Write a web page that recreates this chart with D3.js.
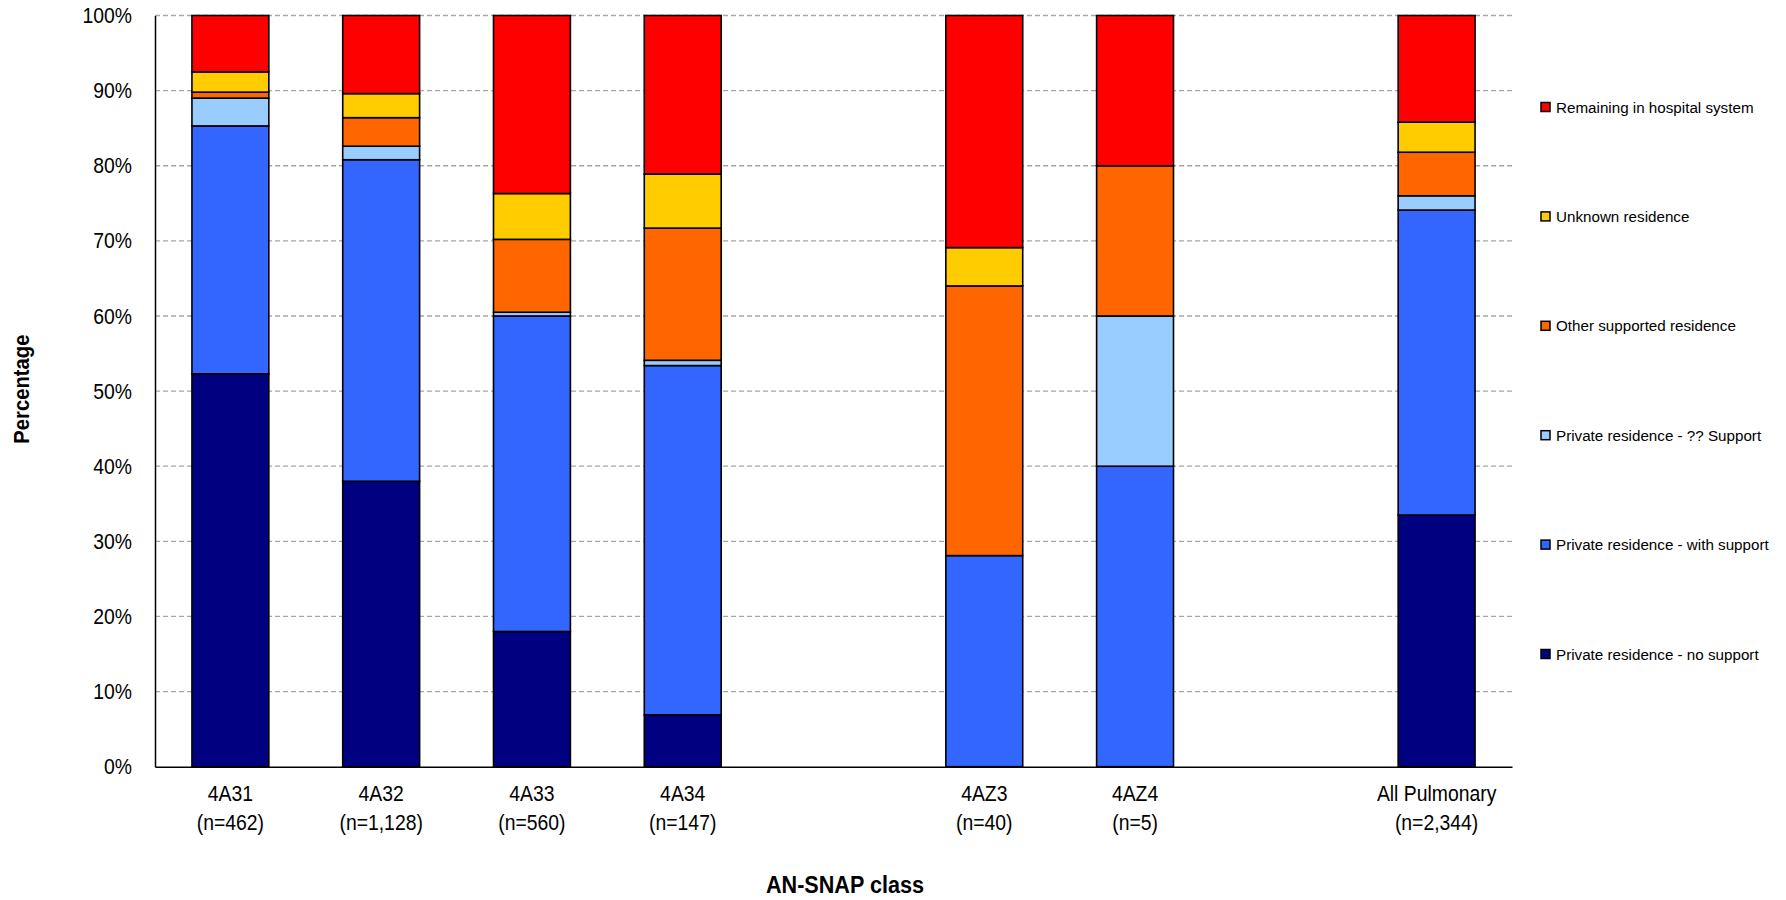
<!DOCTYPE html>
<html>
<head>
<meta charset="utf-8">
<script src="https://cdn.jsdelivr.net/npm/d3@7/dist/d3.min.js"></script>
<style>
  html, body { margin: 0; padding: 0; background: #fff; }
  svg { display: block; }
  .narrow { font-family: "Liberation Sans Narrow", "Arial Narrow", "Liberation Sans", Arial, sans-serif; }
</style>
</head>
<body>
<svg id="chart" width="1786" height="900"></svg>
<script>
// ---- data ----
const categories = ["4A31", "4A32", "4A33", "4A34", "4AZ3", "4AZ4", "All Pulmonary"];
const sampleSizes = ["(n=462)", "(n=1,128)", "(n=560)", "(n=147)", "(n=40)", "(n=5)", "(n=2,344)"];
// slot order including the two empty gaps in the original chart
const slotOrder = ["4A31", "4A32", "4A33", "4A34", "gap1", "4AZ3", "4AZ4", "gap2", "All Pulmonary"];

const seriesNames = [
  "Private residence - no support",
  "Private residence - with support",
  "Private residence - ?? Support",
  "Other supported residence",
  "Unknown residence",
  "Remaining in hospital system"
];
const privateNoSupport   = [52.3, 38.0, 18.0, 6.9, 0.0, 0.0, 33.5];
const privateWithSupport = [33.0, 42.8, 42.0, 46.5, 28.1, 40.0, 40.6];
const privateUnknownSupp = [3.7, 1.8, 0.5, 0.7, 0.0, 20.0, 1.9];
const otherSupported     = [0.8, 3.8, 9.7, 17.6, 35.9, 20.0, 5.8];
const unknownResidence   = [2.7, 3.2, 6.1, 7.2, 5.1, 0.0, 4.0];
const remainingHospital  = [7.5, 10.4, 23.7, 21.1, 30.9, 20.0, 14.2];
const seriesColors = ["#000080", "#3366FF", "#99CCFF", "#FF6600", "#FFCC00", "#FF0000"];
const yTicks = [0, 10, 20, 30, 40, 50, 60, 70, 80, 90, 100];

// ---- build table ----
const seriesValues = [privateNoSupport, privateWithSupport, privateUnknownSupp, otherSupported, unknownResidence, remainingHospital];
const table = categories.map((c, i) => {
  const row = { cat: c };
  seriesNames.forEach((s, j) => row[s] = seriesValues[j][i]);
  return row;
});
const stacked = d3.stack().keys(seriesNames)(table);

// ---- layout ----
const svg = d3.select("#chart");
const plot = { left: 155, right: 1512, top: 15.5, bottom: 766.7 };
const squeeze = 0.88; // horizontal condensing to mimic a narrow font

const x = d3.scaleBand().domain(slotOrder).range([plot.left, plot.right]).paddingInner(0.49).paddingOuter(0.245);
const y = d3.scaleLinear().domain([0, 100]).range([plot.bottom, plot.top]);
const color = d3.scaleOrdinal().domain(seriesNames).range(seriesColors);

// gridlines
svg.append("g").selectAll("line").data(yTicks.filter(t => t > 0)).join("line")
  .attr("x1", plot.left).attr("x2", plot.right)
  .attr("y1", d => y(d)).attr("y2", d => y(d))
  .attr("stroke", "#A6A6A6").attr("stroke-width", 1.3).attr("stroke-dasharray", "5,3");

// y axis
const yAxis = d3.axisLeft(y).tickValues(yTicks).tickFormat(d => d + "%").tickSize(0).tickPadding(23);
const gy = svg.append("g").attr("transform", `translate(${plot.left},0)`).call(yAxis);
gy.select(".domain").attr("stroke", "#000").attr("stroke-width", 1.5);
gy.selectAll("text").attr("class", "narrow").attr("font-size", 22).attr("fill", "#000")
  .attr("x", -23 / squeeze).attr("transform", `scale(${squeeze},1)`);

// bars
svg.append("g").selectAll("g").data(stacked).join("g")
  .attr("fill", d => color(d.key))
  .selectAll("rect").data(d => d.filter(s => s[1] - s[0] > 0)).join("rect")
  .attr("x", d => x(d.data.cat))
  .attr("width", x.bandwidth())
  .attr("y", d => y(d[1]))
  .attr("height", d => y(d[0]) - y(d[1]))
  .attr("stroke", "#000").attr("stroke-width", 1.6);

// x axis line
const xAxis = d3.axisBottom(x).tickSize(0).tickFormat("");
const gx = svg.append("g").attr("transform", `translate(0,${plot.bottom})`).call(xAxis);
gx.select(".domain").attr("stroke", "#000").attr("stroke-width", 1.5);
gx.selectAll(".tick").remove();

// x labels (two lines)
const xl = svg.append("g").attr("class", "narrow").attr("font-size", 22).attr("fill", "#000").attr("text-anchor", "middle");
categories.forEach((c, i) => {
  const cx = x(c) + x.bandwidth() / 2;
  xl.append("text").attr("transform", `translate(${cx},801) scale(${squeeze},1)`).text(c);
  xl.append("text").attr("transform", `translate(${cx},830) scale(${squeeze},1)`).text(sampleSizes[i]);
});

// axis titles
svg.append("text").attr("class", "narrow")
  .attr("transform", `translate(845,893) scale(0.9,1)`).attr("text-anchor", "middle")
  .attr("font-size", 24).attr("font-weight", "bold").text("AN-SNAP class");
svg.append("text").attr("class", "narrow")
  .attr("transform", `translate(29,${(plot.top + plot.bottom) / 2 - 2}) rotate(-90) scale(0.92,1)`)
  .attr("text-anchor", "middle")
  .attr("font-size", 22).attr("font-weight", "bold").text("Percentage");

// legend (reversed order: top = Remaining)
const legendOrder = seriesNames.slice().reverse();
const legendY = d3.scalePoint().domain(legendOrder).range([107, 654]);
const lg = svg.append("g").selectAll("g").data(legendOrder).join("g")
  .attr("transform", d => `translate(1541,${legendY(d)})`);
lg.append("rect").attr("x", 0).attr("y", -4.5).attr("width", 9).attr("height", 9)
  .attr("fill", d => color(d)).attr("stroke", "#000").attr("stroke-width", 1.5);
lg.append("text").attr("x", 15).attr("y", 5.5)
  .attr("font-family", "'Liberation Sans', Arial, sans-serif").attr("font-size", 15.2).attr("fill", "#000")
  .text(d => d);
</script>
</body>
</html>
